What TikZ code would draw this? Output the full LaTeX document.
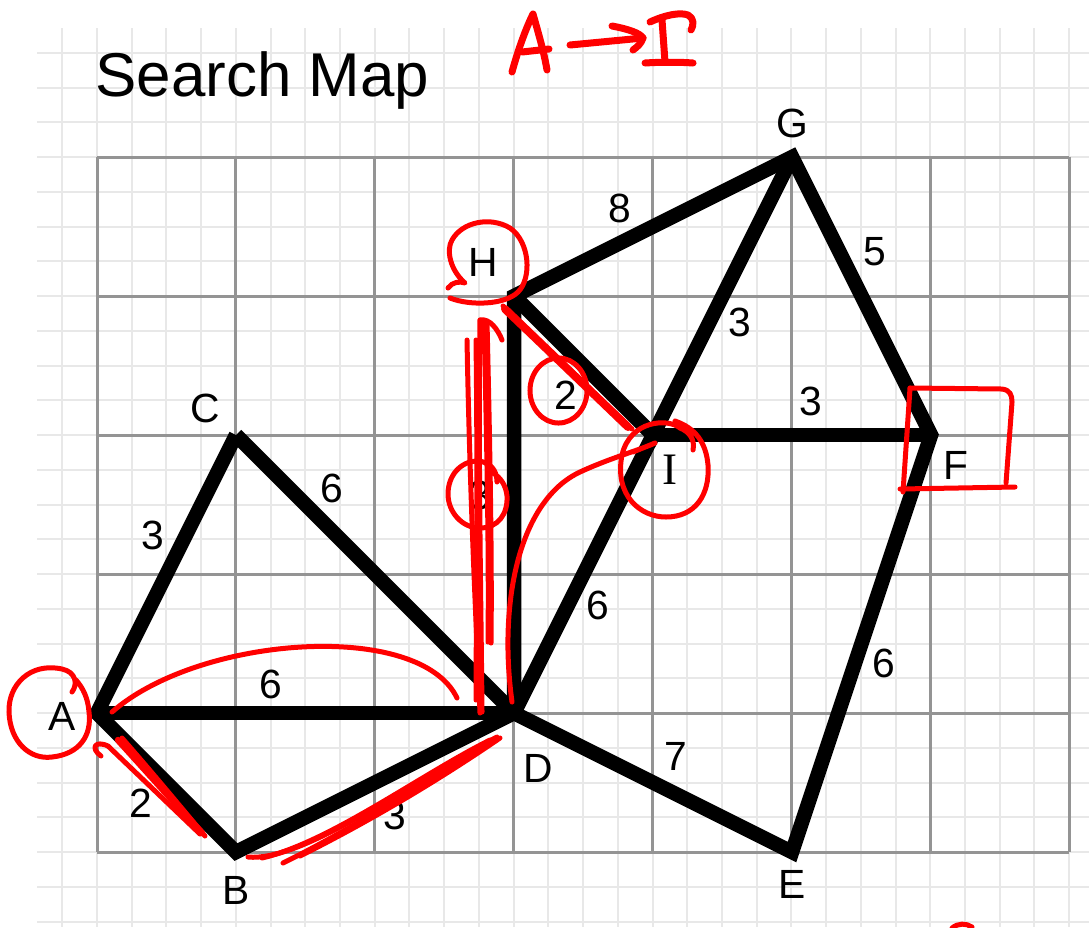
\documentclass[tikz,border=0pt]{standalone}
\usepackage{fontspec}
\setmainfont{Liberation Sans}
\newfontfamily\serifI{Liberation Serif}
\begin{document}
\begin{tikzpicture}[x=0.01cm,y=-0.01cm,
  minorln/.style={draw=black!9,line width=0.02cm},
  majorln/.style={draw=black!42,line width=0.03cm},
  edge/.style={draw=black,line width=0.145cm,line join=miter},
  lbl/.style={inner sep=0pt,font=\fontsize{11.6}{13}\selectfont},
  ink/.style={draw=red,line width=0.05cm,line cap=round,line join=round},
  inkbold/.style={draw=red,line width=0.07cm,line cap=round,line join=round}]
\useasboundingbox (0,0) rectangle (1089,927);
\fill[white] (0,0) rectangle (1089,927);
% minor grid
\foreach \i in {-1,...,28} \draw[minorln] ({97+\i*34.72},28) -- ({97+\i*34.72},927);
\foreach \j in {-3,...,22} \draw[minorln] (37,{157+\j*34.75}) -- (1089,{157+\j*34.75});
% major grid
\foreach \i in {0,...,7} \draw[majorln] ({97+\i*138.86},157) -- ({97+\i*138.86},852);
\foreach \j in {0,...,5} \draw[majorln] (97,{157+\j*139}) -- (1069,{157+\j*139});
% title
\node[anchor=west,inner sep=0pt,font=\fontsize{17.6}{20}\selectfont] (title) at (95,80) {Search Map};
% vertices
\coordinate (A) at (97,713);
\coordinate (B) at (236,852);
\coordinate (C) at (236,435);
\coordinate (D) at (514,713);
\coordinate (E) at (792,852);
\coordinate (F) at (931,435);
\coordinate (G) at (792,157);
\coordinate (H) at (514,296);
\coordinate (I) at (653,435);
% edges
\draw[edge] (C) -- (A) -- (B) -- (D) -- (E) -- (F) -- (G) -- (H) -- (D);
\draw[edge] (A) -- (D);
\draw[edge] (C) -- (D);
\draw[edge] (D) -- (I);
\draw[edge] (H) -- (I) -- (G);
\draw[edge] (I) -- (F);
% vertex labels
\node[lbl] (lA) at (62,716) {A};
\node[lbl] (lB) at (236,890) {B};
\node[lbl] (lC) at (205,408) {C};
\node[lbl] (lD) at (538,768) {D};
\node[lbl] (lE) at (792,884) {E};
\node[lbl] (lF) at (956,465) {F};
\node[lbl] (lG) at (792,123) {G};
\node[lbl] (lH) at (483,262) {H};
\node[lbl,font=\serifI\fontsize{12.8}{14}\selectfont] (lI) at (670,470) {I};
% edge labels
\node[lbl] (wGH) at (620,208) {8};
\node[lbl] (wFG) at (875,252) {5};
\node[lbl] (wGI) at (740,322) {3};
\node[lbl] (wIF) at (811,401) {3};
\node[lbl] (wHI) at (566,395) {2};
\node[lbl] (wHD) at (480,495) {3};
\node[lbl] (wCD) at (332,488) {6};
\node[lbl] (wAC) at (153,535) {3};
\node[lbl] (wAD) at (271,684) {6};
\node[lbl] (wAB) at (141,803) {2};
\node[lbl] (wBD) at (395,815) {3};
\node[lbl] (wDE) at (676,756) {7};
\node[lbl] (wEF) at (884,663) {6};
\node[lbl] (wDI) at (598,605) {6};
% red annotations: A -> I
\draw[inkbold] (512,72) .. controls (518,50) and (526,28) .. (533,14) .. controls (538,32) and (544,52) .. (547,70);
\draw[inkbold] (522,52) -- (549,49);
\draw[inkbold] (570,45) -- (643,38);
\draw[inkbold] (612,26) .. controls (628,29) and (640,33) .. (643,38) .. controls (641,44) and (637,47) .. (633,50);
\draw[inkbold] (650,22) .. controls (665,15) and (680,12) .. (688,15) .. controls (694,18) and (694,25) .. (691,30);
\draw[inkbold] (662,20) -- (665,62);
\draw[inkbold] (645,63) .. controls (660,62) and (680,62) .. (693,63);
% circle round A
\draw[ink] (72,692) .. controls (78,684) and (76,672) .. (62,669) .. controls (30,662) and (8,685) .. (9,712) .. controls (10,742) and (30,760) .. (52,757) .. controls (80,754) and (92,735) .. (89,712) .. controls (88,698) and (83,688) .. (76,680);
% arc A to D
\draw[ink] (112,712) .. controls (200,635) and (420,620) .. (457,698);
% strokes along A-B
\draw[ink] (101,756) .. controls (90,748) and (95,740) .. (108,746) -- (200,834);
\draw[ink,line width=0.065cm] (118,740) -- (202,833);
\draw[ink] (122,738) .. controls (150,770) and (175,800) .. (205,836);
% strokes along B-D
\draw[ink] (248,857) .. controls (300,862) and (400,790) .. (497,737);
\draw[ink] (283,863) .. controls (350,830) and (430,780) .. (495,738);
\draw[ink] (262,858) .. controls (330,842) and (420,775) .. (490,740);
\draw[ink] (300,856) .. controls (360,826) and (430,786) .. (500,738);
% circle round H
\draw[ink] (448,288) .. controls (452,282) and (460,281) .. (465,283) .. controls (450,270) and (446,250) .. (452,240) .. controls (462,222) and (490,216) .. (510,228) .. controls (530,242) and (532,278) .. (518,292) .. controls (505,305) and (470,306) .. (450,298);
% strokes along H-D
\draw[ink] (467,340) .. controls (470,500) and (476,620) .. (480,713);
\draw[ink] (480,320) .. controls (478,450) and (481,600) .. (482,712);
\draw[ink] (480,320) .. controls (490,318) and (498,330) .. (502,340);
\draw[ink] (484,322) .. controls (487,450) and (489,560) .. (488,642);
\draw[ink] (487,322) .. controls (490,450) and (492,560) .. (491,643);
\draw[ink] (476,340) .. controls (478,500) and (476,640) .. (476,700);
% circle round 3
\draw[ink] (497,482) .. controls (497,470) and (490,462) .. (478,461) .. controls (460,461) and (448,476) .. (448,494) .. controls (448,512) and (462,528) .. (480,528) .. controls (498,528) and (508,514) .. (507,496) .. controls (506,485) and (500,477) .. (493,473);
% stroke along H-I
\draw[ink,line width=0.08cm] (505,309) -- (628,427);
\draw[ink] (503,306) -- (632,429);
% circle round 2
\draw[ink] (558.5,390.5) ellipse [x radius=0.285cm,y radius=0.325cm];
% circle round I
\draw[ink] (693,450) .. controls (695,440) and (690,432) .. (680,428) .. controls (668,418) and (630,420) .. (622,455) .. controls (614,495) and (640,517) .. (666,517) .. controls (695,517) and (710,495) .. (708,465) .. controls (706,442) and (695,428) .. (675,421);
% curve D to I
\draw[ink] (512,702) .. controls (498,600) and (520,500) .. (580,472) .. controls (610,458) and (640,450) .. (655,443) -- (633,452);
% box round F
\draw[ink] (910,388) -- (903,492);
\draw[ink] (910,388) -- (1002,389) .. controls (1010,390) and (1012,395) .. (1012,402) -- (1006,483);
\draw[ink] (900,489) -- (1015,487);
% mark at bottom right
\draw[ink] (952,928) .. controls (958,923) and (966,923) .. (972,927);
\end{tikzpicture}
\end{document}
